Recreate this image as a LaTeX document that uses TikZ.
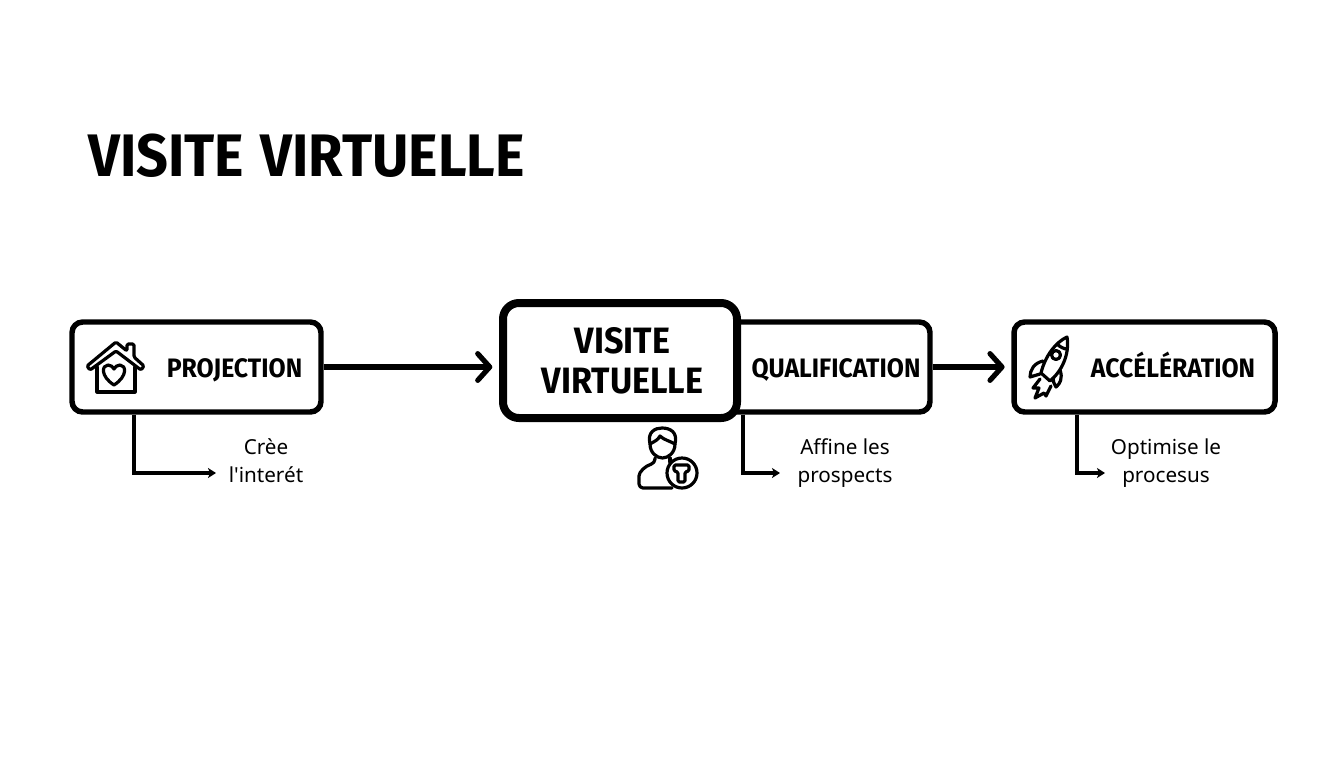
\documentclass[tikz,border=0pt]{standalone}
\usepackage{fontspec}
\setmainfont{Noto Sans}[Ligatures=TeXOff]
\newfontfamily\headfont[BoldFont=Fira Sans Bold,BoldFeatures={FakeStretch=0.93}]{Fira Sans}
\usetikzlibrary{arrows.meta}
\tikzset{
  x=0.75pt,y=-0.75pt,
  stage/.style={draw=black,fill=white,line width=4.1pt,rounded corners=8pt,minimum height=67.5pt,inner sep=0pt},
  mainstage/.style={draw=black,fill=white,line width=6pt,rounded corners=12pt,inner sep=0pt,minimum width=175.5pt,minimum height=86.25pt},
  headlabel/.style={font=\headfont\bfseries\fontsize{20}{24}\selectfont,inner sep=0pt,anchor=base},
  mainlabel/.style={font=\headfont\bfseries\fontsize{27.5}{30}\selectfont,inner sep=0pt,align=center},
  titlelabel/.style={font=\headfont\bfseries\fontsize{45}{50}\selectfont,inner sep=0pt,anchor=base west},
  sublabel/.style={font=\fontsize{15.5}{21}\selectfont,inner sep=0pt,align=center},
  flow/.style={line width=3.9pt,-{Straight Barb[round,length=9pt,width=20pt,line width=3.9pt]},shorten >=5pt},
  subflow/.style={line width=2.5pt,-{Stealth[length=6pt,width=7.5pt,inset=1.5pt]},line join=miter},
  icon/.style={line width=2.4pt,line join=round,line cap=round,draw=black},
}
\begin{document}
\begin{tikzpicture}
\useasboundingbox (0,0) rectangle (1344,768);
\fill[white] (0,0) rectangle (1344,768);

\node[titlelabel] (title) at (88,176) {VISITE\hspace{2.5pt} VIRTUELLE};

\node[stage,minimum width=186.75pt] (proj) at (196.5,367) {};
\node[stage,minimum width=172.5pt] (qual) at (815,367) {};
\node[stage,minimum width=195.75pt] (acc) at (1144.5,367) {};
\node[mainstage] (main) at (620,360.5) {};

\node[headlabel] (projt) at (234.5,377) {PROJECTION};
\node[headlabel] (qualt) at (836,377) {QUALIFICATION};
\node[headlabel] (acct) at (1173,377) {ACCÉLÉRATION};
\node[mainlabel] (maint) at (622.5,360.5) {VISITE\\VIRTUELLE};

\node[sublabel] (projs) at (266,461) {Crèe\\l'interét};
\node[sublabel] (quals) at (845,463) {Affine les\\prospects};
\node[sublabel] (accs) at (1166,463) {Optimise le\\procesus};

\draw[flow] (proj.east) -- (main.west |- proj.east);
\draw[flow] (qual.east) -- (acc.west);

\coordinate (e1) at (134,473); \coordinate (t1) at (216,473);
\coordinate (e2) at (743,473); \coordinate (t2) at (780,473);
\coordinate (e3) at (1077,473); \coordinate (t3) at (1105,473);
\draw[subflow] (proj.south -| e1) |- (t1);
\draw[subflow] (qual.south -| e2) |- (t2);
\draw[subflow] (acc.south -| e3) |- (t3);

% house icon
\draw[icon] (97,367) -- (97,392) -- (135,392) -- (135,367);
\draw[icon,fill=white,rounded corners=1pt] (87,366) -- (116,342) -- (127,351) -- (127,344) -- (134,344) -- (134,357) -- (144,366) -- (141,370) -- (116,351) -- (90,370) -- cycle;
\draw[icon] (114,385) .. controls (100,376) and (102,365) .. (108,365) .. controls (111,365) and (113,367) .. (114,369) .. controls (115,367) and (117,365) .. (120,365) .. controls (126,365) and (128,376) .. (114,385) -- cycle;

% person icon
\draw[icon] (650,444) .. controls (647,432) and (655,428) .. (662,428) .. controls (670,428) and (678,432) .. (675,444) .. controls (675,453) and (668,458) .. (662.5,458) .. controls (657,458) and (650,453) .. (650,444) -- cycle;
\draw[icon] (650,444) .. controls (655,441) and (658,440) .. (660,436) .. controls (664,440) and (670,441) .. (675,444);
\draw[icon,rounded corners=3pt] (655,458) -- (655,463) .. controls (645,466) and (639,472) .. (639,480) -- (639,488) -- (672,488);
\draw[icon] (670,458) -- (670,462);
\draw[icon,fill=white] (682,473) circle[radius=15];
\draw[icon,rounded corners=1pt] (674,465) -- (689,465) -- (689,471) -- (685,472) -- (685,482) -- (678,482) -- (678,472) -- (674,471) -- cycle;

% rocket icon
\draw[icon,fill=white] (1067,337) .. controls (1056,342) and (1045,356) .. (1041,373) -- (1050,381) .. controls (1061,372) and (1070,355) .. (1067,337) -- cycle;
\draw[icon] (1057,344) .. controls (1060,347) and (1064,349) .. (1067,349);
\draw[icon] (1056,355) circle[radius=4.5];
\draw[icon] (1043,361) .. controls (1034,363) and (1030,370) .. (1030,377) -- (1040,374);
\draw[icon] (1060,370) .. controls (1063,378) and (1060,384) .. (1056,387) .. controls (1054,384) and (1053,381) .. (1053,378);
\draw[icon] (1040,379) -- (1033,388) -- (1039,388) -- (1035,398) -- (1044,393) -- (1046,396) -- (1051,386);
\end{tikzpicture}
\end{document}
